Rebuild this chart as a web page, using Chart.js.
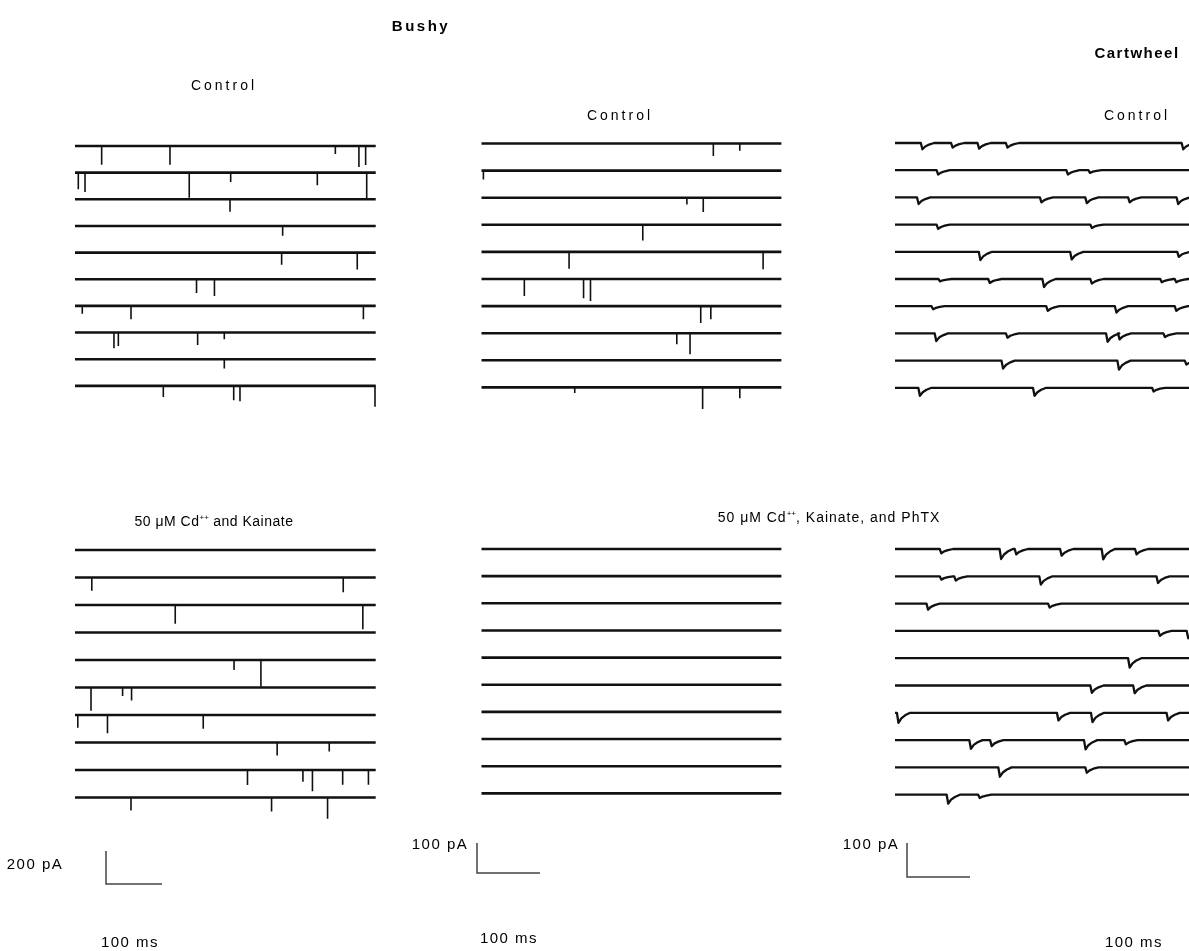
<!DOCTYPE html>
<html lang="en">
<head>
<meta charset="UTF-8">
<title>Bushy and cartwheel cell sweeps</title>
<script src="https://cdn.jsdelivr.net/npm/chart.js"></script>
<style>
  body { margin: 0; background: #fff; }
  #figure { position: relative; width: 1189px; height: 951px; overflow: hidden;
            font-family: "Liberation Sans", Arial, sans-serif; color: #000; }
  #figure canvas { position: absolute; top: 0; }
  .label { position: absolute; transform: translate(-50%, -50%); white-space: nowrap;
           font-size: 14px; line-height: 1; letter-spacing: 1px; z-index: 2; }
  .title { font-weight: bold; font-size: 15px; letter-spacing: 2.5px; }
  .ctrl { letter-spacing: 3px; }
  .bar { font-size: 15px; letter-spacing: 1.5px; }
  .label sup { font-size: 8px; vertical-align: 6px; line-height: 0; letter-spacing: 0; }
</style>
</head>
<body>
<div id="figure">
  <canvas id="col0"></canvas>
  <canvas id="col1"></canvas>
  <canvas id="col2"></canvas>

  <div class="label title" style="left:421px; top:25px;">Bushy</div>
  <div class="label title" style="left:1137px; top:52px; letter-spacing:1.5px;">Cartwheel</div>

  <div class="label ctrl" style="left:224px; top:85px;">Control</div>
  <div class="label ctrl" style="left:620px; top:115px;">Control</div>
  <div class="label ctrl" style="left:1137px; top:115px;">Control</div>

  <div class="label" style="left:214px; top:521px; letter-spacing:0.5px;">50 &mu;M Cd<sup>++</sup> and Kainate</div>
  <div class="label" style="left:829px; top:517px;">50 &mu;M Cd<sup>++</sup>, Kainate, and PhTX</div>

  <div class="label bar" style="left:35px; top:863px;">200 pA</div>
  <div class="label bar" style="left:440px; top:843px;">100 pA</div>
  <div class="label bar" style="left:871px; top:843px;">100 pA</div>
  <div class="label bar" style="left:130px; top:941px;">100 ms</div>
  <div class="label bar" style="left:509px; top:937px;">100 ms</div>
  <div class="label bar" style="left:1134px; top:941px;">100 ms</div>
</div>

<script>
// Each sweep is a list of synaptic events: [time (ms), amplitude (pA)], inward = down

// Bushy cell A
const bushyAControl = [
  [[47.6, 113], [169.6, 113], [464.9, 48], [507, 127], [519, 115]],
  [[5.9, 101], [17.9, 117], [204, 152], [278, 56], [432.7, 77], [520.9, 158]],
  [[276.8, 75]],
  [[370.8, 59]],
  [[369, 73], [504, 103]],
  [[217, 83], [249, 101]],
  [[13, 47], [100, 81], [515, 81]],
  [[69.6, 95], [77.4, 81], [219, 75], [266.6, 40]],
  [[266.6, 57]],
  [[157.7, 67], [283.4, 87], [294.6, 93], [535.7, 127]]
];
const bushyACdKainate = [
  [],
  [[30, 81], [479, 89]],
  [[179, 113], [514, 147]],
  [],
  [[284, 61], [332, 162]],
  [[28.6, 141], [85, 51], [101, 79]],
  [[5, 77], [58, 111], [229, 83]],
  [[361, 79], [454, 55]],
  [[308, 91], [407, 71], [424, 129], [478, 89], [524, 89]],
  [[100, 79], [351, 85], [451, 129]]
];

// Bushy cell B
const bushyBControl = [
  [[368, 42], [410, 24]],
  [[3, 30]],
  [[326, 23], [352, 48]],
  [[256, 52]],
  [[139, 56], [447, 58]],
  [[68, 57], [162, 64], [173, 73]],
  [[348, 56], [364, 44]],
  [[310, 37], [331, 70]],
  [],
  [[148, 19], [351, 72], [410, 36]]
];
const bushyBCdKainatePhtx = [[], [], [], [], [], [], [], [], [], []];

// Cartwheel cell
const cartwheelControl = [
  [[41, 18.5], [89, 13.7], [131, 16.6], [176, 13.7], [455, 18.5]],
  [[66, 12.7], [272, 12.7], [307, 7.8]],
  [[35, 19.6], [230, 14.7], [302, 16.7], [370, 14.7], [447, 19.6]],
  [[66, 12.7], [310, 9.8]],
  [[133, 24.5], [278, 22.5], [448, 14.7]],
  [[69, 6.9], [148, 11.8], [234, 23.5], [310, 13.7], [421, 9.8], [444, 9.8]],
  [[58, 8.8], [240, 13.7], [349, 18.6], [444, 13.7]],
  [[63, 22.5], [176, 12.7], [335, 24.5], [354, 17.6], [426, 10.8]],
  [[169, 23.5], [353, 26.5], [460, 11.8]],
  [[37, 23.5], [219, 23.5], [408, 10.8]]
];
const cartwheelCdKainatePhtx = [
  [[71, 12.7], [166, 29.4], [190, 15.7], [262, 19.6], [328, 30.4], [381, 15.7]],
  [[71, 9.8], [94, 12.7], [229, 24.5], [415, 19.6]],
  [[50, 17.6], [243, 11.8]],
  [[418, 14.7], [463, 21.6]],
  [[370, 27.4]],
  [[310, 21.6], [378, 22.5]],
  [[3, 29.4], [257, 22.5], [311, 27.4], [431, 22.5]],
  [[118, 25.5], [151, 17.6], [300, 27.4], [364, 12.7]],
  [[164, 27.4], [302, 15.7]],
  [[82, 26.5], [132, 9.8]]
];

const sweepMs = [537, 476, 485];
const scaleBarMs = [100, 100, 100];
const scaleBarPa = [200, 100, 100];

// slow EPSC waveform as [dt (ms), fraction of amplitude]
const slowShape = [[0, 0], [2.5, 1], [7, 0.55], [13, 0.25], [21, 0]];

// page layout of each column (pixels)
const columns = [
  { canvas: 'col0', left: 0, width: 400, x0: 75, pxPerMs: 0.56, pxPerPa: 33 / 200, fast: true,
    panels: [{ y0: 146, step: 26.65, sweeps: bushyAControl },
             { y0: 550, step: 27.5, sweeps: bushyACdKainate }],
    bar: { x: 106, y: 884 } },
  { canvas: 'col1', left: 400, width: 420, x0: 481.5, pxPerMs: 0.63, pxPerPa: 30 / 100, fast: true,
    panels: [{ y0: 143.5, step: 27.1, sweeps: bushyBControl },
             { y0: 549, step: 27.15, sweeps: bushyBCdKainatePhtx }],
    bar: { x: 477, y: 873 } },
  { canvas: 'col2', left: 820, width: 369, x0: 895, pxPerMs: 0.63, pxPerPa: 34 / 100, fast: false,
    panels: [{ y0: 143, step: 27.2, sweeps: cartwheelControl },
             { y0: 549, step: 27.3, sweeps: cartwheelCdKainatePhtx }],
    bar: { x: 907, y: 877 } }
];

const traceStyle = { borderColor: '#111', borderWidth: 2.6, borderJoinStyle: 'round' };

// slow events are drawn into the sweep itself
function slowSweep(events, base, dur) {
  const pts = [{ x: 0, y: base }];
  events.slice().sort((a, b) => a[0] - b[0]).forEach(([t, amp]) => {
    slowShape.forEach(([dt, f]) => pts.push({ x: t + dt, y: base - amp * f }));
  });
  pts.push({ x: dur, y: base });
  return pts;
}

// fast events: one thin vertical stroke per event, separated by gaps
function fastTicks(events, base) {
  const pts = [];
  events.forEach(([t, amp]) => {
    pts.push({ x: t, y: base }, { x: t, y: base - amp }, { x: t, y: null });
  });
  return pts;
}

columns.forEach((col, ci) => {
  const H = 951;
  const msAt = px => (px - col.x0) / col.pxPerMs;
  const paAt = py => -py / col.pxPerPa;

  const datasets = [];
  col.panels.forEach(panel => {
    panel.sweeps.forEach((events, i) => {
      const base = paAt(panel.y0 + i * panel.step);
      if (col.fast) {
        datasets.push({ data: [{ x: 0, y: base }, { x: sweepMs[ci], y: base }], ...traceStyle });
        datasets.push({ data: fastTicks(events, base), borderColor: '#111', borderWidth: 1.6 });
      } else {
        datasets.push({ data: slowSweep(events, base, sweepMs[ci]), ...traceStyle, borderWidth: 2.3 });
      }
    });
  });

  // scale bar: vertical pA leg, then horizontal ms leg
  const bx = msAt(col.bar.x), by = paAt(col.bar.y);
  datasets.push({
    data: [{ x: bx, y: by + scaleBarPa[ci] }, { x: bx, y: by }, { x: bx + scaleBarMs[ci], y: by }],
    borderColor: '#444',
    borderWidth: 1.5
  });

  const canvas = document.getElementById(col.canvas);
  canvas.width = col.width;
  canvas.height = H;
  canvas.style.left = col.left + 'px';
  canvas.style.width = col.width + 'px';
  canvas.style.height = H + 'px';

  new Chart(canvas.getContext('2d'), {
    type: 'line',
    data: { datasets },
    options: {
      responsive: false,
      animation: false,
      layout: { padding: 0 },
      elements: { point: { radius: 0 }, line: { tension: 0, fill: false } },
      scales: {
        x: { type: 'linear', display: false, min: msAt(col.left), max: msAt(col.left + col.width) },
        y: { type: 'linear', display: false, min: paAt(H), max: paAt(0) }
      },
      plugins: { legend: { display: false }, tooltip: { enabled: false } }
    }
  });
});
</script>
</body>
</html>
